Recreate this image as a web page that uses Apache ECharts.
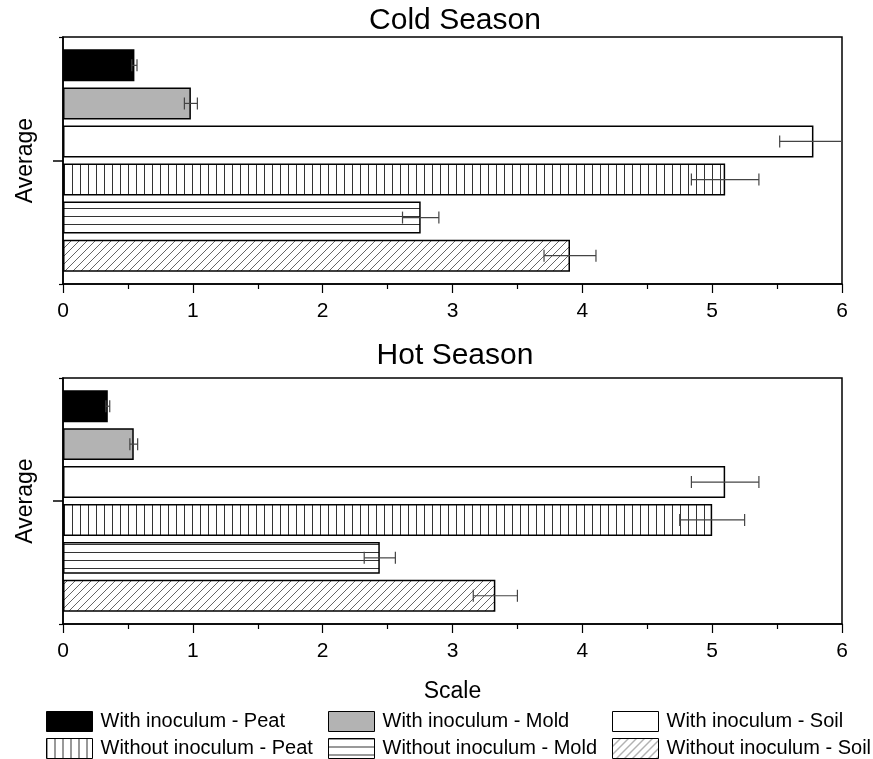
<!DOCTYPE html>
<html><head><meta charset="utf-8">
<script src="https://cdn.jsdelivr.net/npm/echarts@6/dist/echarts.min.js"></script>
<style>html,body{margin:0;padding:0;background:#fff}#c{width:873px;height:759px}</style>
</head><body><div id="c"></div>
<script>
// ---- data ----
const categories = ['Average'];
const seriesNames = ['With inoculum - Peat','With inoculum - Mold','With inoculum - Soil',
                     'Without inoculum - Peat','Without inoculum - Mold','Without inoculum - Soil'];
const coldValues = [0.55, 0.985, 5.78, 5.10, 2.755, 3.905];
const coldErrors = [0.02, 0.05, 0.26, 0.26, 0.14, 0.20];
const hotValues  = [0.345, 0.545, 5.10, 5.00, 2.44, 3.33];
const hotErrors  = [0.015, 0.03, 0.26, 0.25, 0.12, 0.17];
const seasonTitles = ['Cold Season', 'Hot Season'];
const xTicks = [0, 1, 2, 3, 4, 5, 6];
const xName = 'Scale';

// ---- styles ----
const FONT = "'Liberation Sans', Arial, sans-serif";
function pat(kind){
  const s = 8, c = document.createElement('canvas'); c.width = s; c.height = s;
  const g = c.getContext('2d'); g.fillStyle = '#fff'; g.fillRect(0,0,s,s);
  g.strokeStyle = kind === 'd' ? '#666' : '#333'; g.lineWidth = 1; g.beginPath();
  if (kind === 'v') { g.moveTo(0.5,0); g.lineTo(0.5,s); }
  else if (kind === 'h') { g.moveTo(0,0.5); g.lineTo(s,0.5); }
  else { g.moveTo(0,s); g.lineTo(s,0); g.moveTo(-1,1); g.lineTo(1,-1); g.moveTo(s-1,s+1); g.lineTo(s+1,s-1); }
  g.stroke();
  return { image: c, repeat: 'repeat' };
}
const fills = ['#000000', '#b3b3b3', '#ffffff', pat('v'), pat('h'), pat('d')];
const CAT_GAP = 0.10, BAR_GAP = 0.19;

const grids = [
  { left: 63, right: 31, top: 37, height: 247, show: true, borderColor: '#000', borderWidth: 1.5, backgroundColor: 'transparent' },
  { left: 63, right: 31, top: 378, height: 246, show: true, borderColor: '#000', borderWidth: 1.5, backgroundColor: 'transparent' }
];
const titleTops = [6, 341];

const xAxes = [0,1].map(s => ({
  type: 'value', gridIndex: s,
  min: xTicks[0], max: xTicks[xTicks.length-1], interval: xTicks[1]-xTicks[0],
  axisLine: { show: true, onZero: false, lineStyle: { color: '#000', width: 1.5 } },
  axisTick: { show: true, length: 9, lineStyle: { color: '#000', width: 1.2 } },
  minorTick: { show: true, splitNumber: 2, length: 5, lineStyle: { color: '#000', width: 1.2 } },
  splitLine: { show: false }, minorSplitLine: { show: false },
  axisLabel: { fontSize: 21, color: '#000', fontFamily: FONT, margin: 17 },
  name: s === 1 ? xName : '', nameLocation: 'middle', nameGap: 56,
  nameTextStyle: { fontSize: 23, color: '#000', fontFamily: FONT }
}));

const yAxes = [];
[0,1].forEach(s => {
  yAxes.push({
    type: 'category', gridIndex: s, data: categories, position: 'left',
    axisLine: { show: true, lineStyle: { color: '#000', width: 1.5 } },
    axisTick: { show: true, alignWithLabel: false, length: 4, lineStyle: { color: '#000', width: 1.2 } },
    axisLabel: { show: true, rotate: 90, fontSize: 23, color: '#000', fontFamily: FONT, margin: 26 }
  });
  yAxes.push({
    type: 'category', gridIndex: s, data: categories, position: 'left',
    axisLine: { show: false },
    axisTick: { show: true, alignWithLabel: true, length: 10, lineStyle: { color: '#000', width: 1.5 } },
    axisLabel: { show: false }
  });
});

const series = [];
[[coldValues, coldErrors], [hotValues, hotErrors]].forEach(([vals, errs], s) => {
  vals.forEach((v, i) => {
    series.push({
      type: 'bar', name: seriesNames[i], xAxisIndex: s, yAxisIndex: 2*s,
      data: [v], barCategoryGap: (CAT_GAP*100)+'%', barGap: (BAR_GAP*100)+'%',
      itemStyle: { color: fills[i], borderColor: '#000', borderWidth: 1.5 },
      emphasis: { disabled: true }, animation: false
    });
  });
  const n = vals.length;
  series.push({
    type: 'custom', xAxisIndex: s, yAxisIndex: 2*s, z: 10, animation: false, silent: true,
    data: vals.map((v, i) => [v, categories[0], errs[i], i]),
    encode: { x: 0, y: 1 },
    renderItem: function(params, api){
      const v = api.value(0), e = api.value(2), i = api.value(3);
      const band = api.size([0, 1])[1];
      const bw = band * (1 - CAT_GAP) / (n + (n-1)*BAR_GAP);
      const total = n*bw + (n-1)*BAR_GAP*bw;
      const c = api.coord([v, api.value(1)]);
      const y = c[1] - total/2 + i*bw*(1+BAR_GAP) + bw/2;
      const xmax = api.coord([xTicks[xTicks.length-1], api.value(1)])[0];
      const x1 = api.coord([v - e, api.value(1)])[0];
      const x2 = Math.min(api.coord([v + e, api.value(1)])[0], xmax);
      const capH = 6;
      const st = { stroke: '#444', lineWidth: 1.2 };
      const kids = [
        { type: 'line', shape: { x1: x1, y1: y, x2: x2, y2: y }, style: st },
        { type: 'line', shape: { x1: x1, y1: y-capH, x2: x1, y2: y+capH }, style: st }
      ];
      if (api.coord([v + e, api.value(1)])[0] <= xmax)
        kids.push({ type: 'line', shape: { x1: x2, y1: y-capH, x2: x2, y2: y+capH }, style: st });
      return { type: 'group', children: kids };
    }
  });
});

const legendLefts = [46, 328, 612];
const legends = [0,1,2].map(col => ({
  orient: 'vertical', left: legendLefts[col], top: 711, padding: 0, itemGap: 6,
  itemWidth: 46, itemHeight: 20, icon: 'rect', selectedMode: false,
  data: [seriesNames[col], seriesNames[col+3]],
  itemStyle: { borderColor: '#000', borderWidth: 1 },
  textStyle: { fontSize: 20, color: '#000', fontFamily: FONT, padding: [0,0,0,3] }
}));

const chart = echarts.init(document.getElementById('c'), null, { renderer: 'canvas' });
chart.setOption({
  backgroundColor: '#fff',
  animation: false,
  textStyle: { fontFamily: FONT },
  title: seasonTitles.map((t, s) => ({
    text: t, left: 455, textAlign: 'center', top: titleTops[s], padding: 0,
    textStyle: { fontSize: 30, fontWeight: 'normal', color: '#000', fontFamily: FONT }
  })),
  grid: grids, xAxis: xAxes, yAxis: yAxes, legend: legends, series: series
});
</script></body></html>
